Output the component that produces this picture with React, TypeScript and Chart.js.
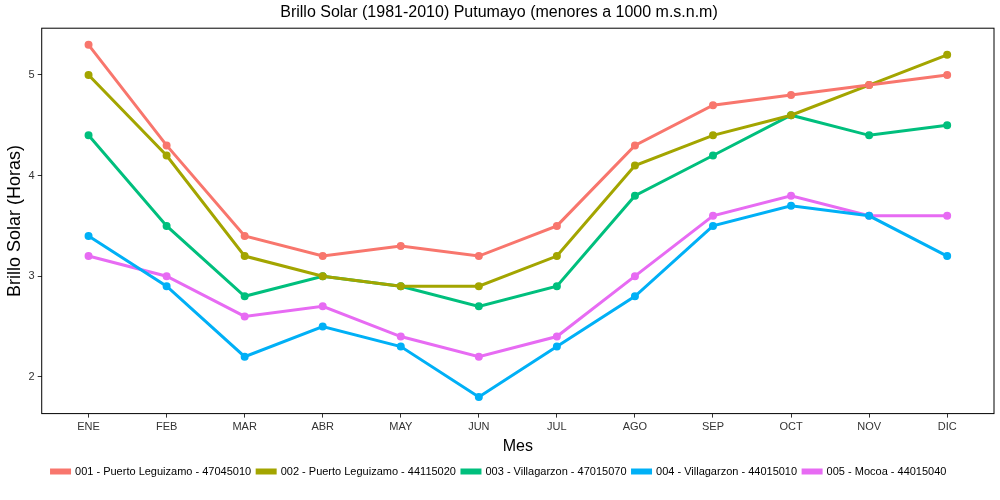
import React, { useEffect, useRef } from "react";
import { Chart, registerables } from "chart.js";
Chart.register(...registerables);

const months = ["ENE","FEB","MAR","ABR","MAY","JUN","JUL","AGO","SEP","OCT","NOV","DIC"];
const seriesNames = ["001 - Puerto Leguizamo - 47045010","002 - Puerto Leguizamo - 44115020","003 - Villagarzon - 47015070","004 - Villagarzon - 44015010","005 - Mocoa - 44015040"];
const s001 = [5.3,4.3,3.4,3.2,3.3,3.2,3.5,4.3,4.7,4.8,4.9,5.0];
const s002 = [5.0,4.2,3.2,3.0,2.9,2.9,3.2,4.1,4.4,4.6,4.9,5.2];
const s003 = [4.4,3.5,2.8,3.0,2.9,2.7,2.9,3.8,4.2,4.6,4.4,4.5];
const s004 = [3.4,2.9,2.2,2.5,2.3,1.8,2.3,2.8,3.5,3.7,3.6,3.2];
const s005 = [3.2,3.0,2.6,2.7,2.4,2.2,2.4,3.0,3.6,3.8,3.6,3.6];
const colors = ["#F8766D","#A3A500","#00BF7D","#00B0F6","#E76BF3"];

export default function App() {
  const ref = useRef<HTMLCanvasElement>(null);
  useEffect(() => {
    document.body.style.margin = "0";
    const all = [s001, s002, s003, s004, s005];
    const border = {
      id: "border",
      afterDraw(c: any) {
        const a = c.chartArea, ctx = c.ctx;
        ctx.save(); ctx.strokeStyle = "#000"; ctx.lineWidth = 1;
        ctx.strokeRect(a.left, a.top, a.right - a.left, a.bottom - a.top);
        ctx.restore();
      },
    };
    const chart = new Chart(ref.current!, {
      type: "line",
      data: {
        datasets: all.map((s, i) => ({
          label: seriesNames[i],
          data: s.map((v, j) => ({ x: j, y: v })),
          borderColor: colors[i],
          backgroundColor: colors[i],
          borderWidth: 3,
          pointRadius: 2.5,
          pointHoverRadius: 2.5,
          tension: 0,
        })),
      },
      options: {
        animation: false,
        responsive: false,
        layout: { padding: { left: 4, right: 6, top: 0, bottom: 13 } },
        plugins: {
          title: { display: true, text: "Brillo Solar (1981-2010) Putumayo (menores a 1000 m.s.n.m)", color: "#000", font: { family: "Liberation Sans", size: 16, weight: "normal" }, padding: { top: 3, bottom: 6 } },
          legend: { position: "bottom", labels: { color: "#000", boxWidth: 18, boxHeight: 3, padding: 6, font: { family: "Liberation Sans", size: 11 } } },
          tooltip: { enabled: false },
        },
        scales: {
          x: {
            type: "linear", min: -0.6, max: 11.6,
            afterBuildTicks: (ax: any) => { ax.ticks = months.map((_, i) => ({ value: i })); },
            ticks: { color: "#333", font: { family: "Liberation Sans", size: 11 }, callback: (v: any) => months[v as number] ?? "", autoSkip: false, maxRotation: 0 },
            grid: { display: true, drawOnChartArea: false, tickLength: 4, color: "#333" },
            border: { display: false },
            title: { display: true, text: "Mes", color: "#000", font: { family: "Liberation Sans", size: 16 }, padding: { top: 0, bottom: 4 } },
          },
          y: {
            min: 1.634, max: 5.465,
            afterBuildTicks: (ax: any) => { ax.ticks = [2,3,4,5].map(v => ({ value: v })); },
            ticks: { color: "#333", font: { family: "Liberation Sans", size: 11 } },
            grid: { display: true, drawOnChartArea: false, tickLength: 4, color: "#333" },
            border: { display: false },
            title: { display: true, text: "Brillo Solar (Horas)", color: "#000", font: { family: "Liberation Sans", size: 18 }, padding: 0 },
          },
        },
      },
      plugins: [border],
    } as any);
    return () => chart.destroy();
  }, []);
  return <canvas ref={ref} width={1000} height={500} style={{ display: "block" }} />;
}
